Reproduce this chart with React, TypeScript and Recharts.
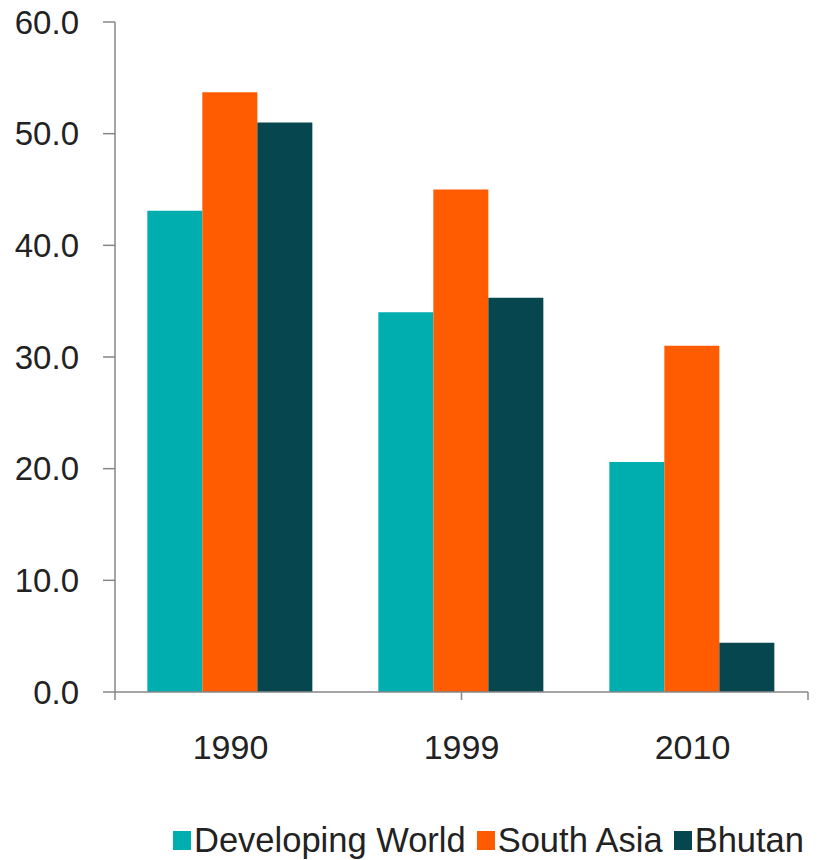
import React from "react";
import { BarChart, Bar, XAxis, YAxis, Legend } from "recharts";

const categories = ["1990", "1999", "2010"];
const developingWorld = [43.1, 34.0, 20.6];
const southAsia = [53.7, 45.0, 31.0];
const bhutan = [51.0, 35.3, 4.4];
const yTicks = [0, 10, 20, 30, 40, 50, 60];
const boundaryTicks = [0, 1, 2, 3];

const seriesNames = ["Developing World", "South Asia", "Bhutan"];
const colors = ["#00AEB0", "#FF5B00", "#05464F"];

const data = categories.map((c, i) => ({
  year: c,
  dw: developingWorld[i],
  sa: southAsia[i],
  bt: bhutan[i],
}));

const FONT = '"Liberation Sans", Arial, sans-serif';
const AXIS = "#878787";

const LegendContent = () => (
  <div
    style={{
      display: "flex",
      alignItems: "center",
      paddingLeft: 173,
      height: 40,
      fontFamily: FONT,
      fontSize: 34.5,
      color: "#222",
      whiteSpace: "nowrap",
    }}
  >
    {seriesNames.map((n, i) => (
      <div key={n} style={{ display: "flex", alignItems: "center", marginRight: 11 }}>
        <div style={{ width: 18, height: 19, background: colors[i], marginRight: 3 }} />
        <span>{n}</span>
      </div>
    ))}
  </div>
);

const EmptyTick = () => <g />;

export default function App() {
  return (
    <div style={{ margin: "-8px 0 0 -8px", width: 835, height: 860 }}>
      <BarChart
        width={835}
        height={860}
        data={data}
        margin={{ top: 22, right: 27, bottom: 0, left: 0 }}
        barGap={0}
        barCategoryGap="14%"
      >
        <XAxis
          xAxisId="bounds"
          type="number"
          domain={[0, 3]}
          ticks={boundaryTicks}
          tick={<EmptyTick />}
          axisLine={{ stroke: AXIS, strokeWidth: 1.5 }}
          tickLine={{ stroke: AXIS, strokeWidth: 1.5 }}
          tickSize={8}
          height={1}
          interval={0}
          allowDataOverflow
        />
        <XAxis
          xAxisId="cat"
          dataKey="year"
          tickLine={false}
          axisLine={false}
          tickSize={0}
          tickMargin={42}
          tick={{ fill: "#222", fontSize: 34, fontFamily: FONT }}
          height={127}
          interval={0}
        />
        <YAxis
          domain={[0, 60]}
          ticks={yTicks}
          tickFormatter={(v: number) => v.toFixed(1)}
          width={115}
          tickSize={12}
          tickMargin={24}
          axisLine={{ stroke: AXIS, strokeWidth: 1.5 }}
          tickLine={{ stroke: AXIS, strokeWidth: 1.5 }}
          tick={{ fill: "#222", fontSize: 33, fontFamily: FONT }}
          interval={0}
        />
        <Legend
          verticalAlign="bottom"
          layout="horizontal"
          height={40}
          wrapperStyle={{ left: 0, width: 835 }}
          content={<LegendContent />}
        />
        <Bar xAxisId="cat" dataKey="dw" name={seriesNames[0]} fill={colors[0]} isAnimationActive={false} />
        <Bar xAxisId="cat" dataKey="sa" name={seriesNames[1]} fill={colors[1]} isAnimationActive={false} />
        <Bar xAxisId="cat" dataKey="bt" name={seriesNames[2]} fill={colors[2]} isAnimationActive={false} />
      </BarChart>
    </div>
  );
}
